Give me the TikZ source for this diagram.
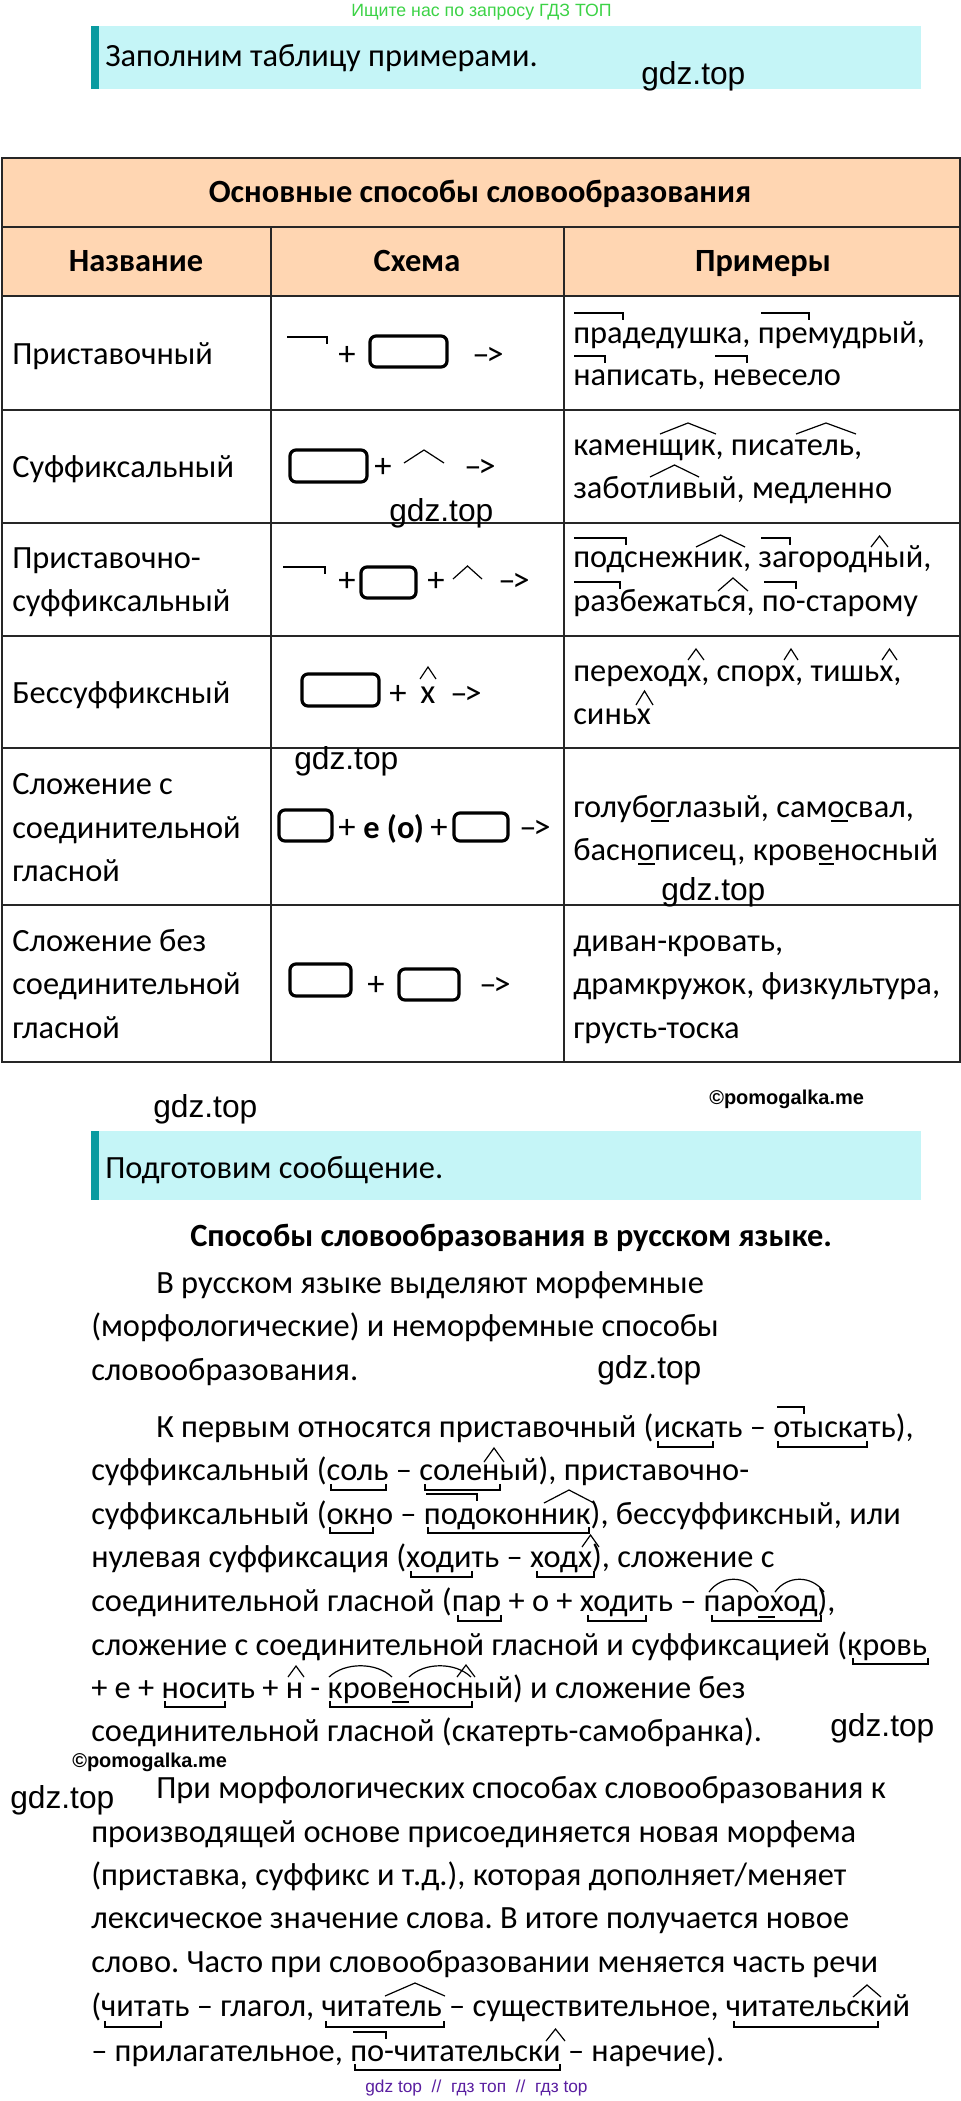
\documentclass[tikz,border=0pt]{standalone}
\usepackage{fontspec}
\setmainfont{Carlito}
\newfontfamily\markfont{Liberation Sans}
\usepackage{tikz}
\frenchspacing
\definecolor{bannerblue}{RGB}{197,245,247}
\definecolor{bannerteal}{RGB}{10,155,160}
\definecolor{headpeach}{RGB}{255,214,178}
\definecolor{adgreen}{RGB}{60,210,70}
\definecolor{adpurple}{RGB}{90,30,160}
\newcommand{\arrowsign}{–\kern-2.5pt>}
\tikzset{
	txt/.style={anchor=base west, inner sep=0pt, font=\fontsize{24.3}{24}\selectfont},
	head/.style={anchor=base, inner sep=0pt, font=\fontsize{24.3}{24}\selectfont\bfseries},
	sign/.style={anchor=center, inner sep=0pt, font=\fontsize{26}{26}\selectfont},
	wmark/.style={anchor=base west, inner sep=0pt, font=\markfont\fontsize{23.8}{24}\selectfont},
	copyr/.style={anchor=base west, inner sep=0pt, font=\markfont\bfseries\fontsize{15}{15}\selectfont},
	gridline/.style={line width=1.5pt, black!85},
	stembox/.style={line width=2.4pt, rounded corners=4.5pt},
	morph/.style={line width=.9pt},
	thickmorph/.style={line width=1.8pt}
}
\newcommand{\prefmark}[3]{\draw[morph] (#1,#3) -- (#2,#3) -- ++(0,7);}
\newcommand{\sufmark}[4]{\draw[morph] (#1,#3) -- ({(#1+#2)/2},#4) -- (#2,#3);}
\newcommand{\rootmark}[3]{\draw[morph] (#1,{#3-6}) -- (#1,#3) -- (#2,#3) -- (#2,{#3-6});}
\newcommand{\archmark}[4]{\draw[morph] (#1,#3) .. controls ({#1+(#2-#1)*.25},{#4-4}) and ({#1+(#2-#1)*.75},{#4-4}) .. (#2,#3);}
\newcommand{\vowelmark}[3]{\draw[thickmorph] (#1,#3) -- (#2,#3);}
\begin{document}
\begin{tikzpicture}[x=.75pt, y=-.75pt]
\useasboundingbox (0,0) rectangle (960,2101);
% banners
\foreach \y/\h in {26/89,1131/1200} {
	\fill[bannerblue] (91,\y) rectangle (921,\h);
	\fill[bannerteal] (91,\y) rectangle (99,\h);
}
\fill[headpeach] (2,158) rectangle (960,296);
% table
\draw[gridline] (2,158) rectangle (960,1062);
\foreach \y in {227.5,296,410,523,636,748,905}
	\draw[gridline] (2,\y) -- (960,\y);
\foreach \x in {270.5,563.8}
	\draw[gridline] (\x,227.5) -- (\x,1062);

\node[wmark, font=\markfont\fontsize{13.3}{14}\selectfont, text=adgreen] (adtop) at (351,17) {Ищите нас по запросу ГДЗ ТОП};
\node[txt] (ban1) at (105,67) {Заполним таблицу примерами.};
\node[head] (title) at (480,203) {Основные способы словообразования};
\node[head] (colname) at (136,272) {Название};
\node[head] (colscheme) at (417,272) {Схема};
\node[head] (colex) at (763,272) {Примеры};

% first column
\node[txt] (n1) at (12,364) {Приставочный};
\node[txt] (n2) at (12,477) {Суффиксальный};
\node[txt] (n3a) at (12,568) {Приставочно-};
\node[txt] (n3b) at (12,611) {суффиксальный};
\node[txt] (n4) at (12,703) {Бессуффиксный};
\node[txt] (n5a) at (12,794) {Сложение с};
\node[txt] (n5b) at (12,838) {соединительной};
\node[txt] (n5c) at (12,881) {гласной};
\node[txt] (n6a) at (12,951) {Сложение без};
\node[txt] (n6b) at (12,994) {соединительной};
\node[txt] (n6c) at (12,1038) {гласной};

% examples
\node[txt] (e1a) at (573,343) {прадедушка, премудрый,};
\node[txt] (e1b) at (573,385) {написать, невесело};
\node[txt] (e2a) at (573,455) {каменщик, писатель,};
\node[txt] (e2b) at (573,498) {заботливый, медленно};
\node[txt] (e3a) at (573,567) {подснежник, загородный,};
\node[txt] (e3b) at (573,611) {разбежаться, по-старому};
\node[txt] (e4a) at (573,681) {переходх, спорх, тишьх,};
\node[txt] (e4b) at (573,724) {синьх};
\node[txt] (e5a) at (573,817) {голубоглазый, самосвал,};
\node[txt] (e5b) at (573,860) {баснописец, кровеносный};
\node[txt] (e6a) at (573,951) {диван-кровать,};
\node[txt] (e6b) at (573,994) {драмкружок, физкультура,};
\node[txt] (e6c) at (573,1038) {грусть-тоска};

\prefmark{574}{623}{313} \prefmark{761}{809}{313}
\prefmark{574}{605}{356} \prefmark{715}{747}{356}
\sufmark{660}{716}{434}{423} \sufmark{796}{856}{434}{423}
\sufmark{650}{699}{477}{465}
\prefmark{574}{626}{538} \sufmark{696}{745}{547}{535}
\prefmark{761}{790}{538} \sufmark{871}{888}{547}{536}
\prefmark{574}{620}{582} \sufmark{718}{748}{591}{578}
\prefmark{764}{796}{582}
\sufmark{688}{704}{660}{649} \sufmark{784}{798}{660}{649}
\sufmark{882}{897}{660}{649} \sufmark{636}{653}{705}{691}
\vowelmark{651}{669}{821} \vowelmark{831}{848}{821}
\vowelmark{638}{655}{864} \vowelmark{819}{834}{864}

% schemes
\prefmark{287}{327}{337}
\node[sign] (s1p) at (347,356) {+};
\draw[stembox] (370,336) rectangle (447,367);
\node[sign] (s1a) at (488,356) {\arrowsign};
\draw[stembox] (290,450) rectangle (367,482);
\node[sign] (s2p) at (383,468) {+};
\sufmark{404}{444}{463}{450}
\node[sign] (s2a) at (480,468) {\arrowsign};
\prefmark{283}{325}{567}
\node[sign] (s3p) at (347,582) {+};
\draw[stembox] (361,567) rectangle (416,598);
\node[sign] (s3q) at (436,582) {+};
\sufmark{453}{482}{579}{566}
\node[sign] (s3a) at (514,582) {\arrowsign};
\draw[stembox] (302,674) rectangle (379,706);
\node[sign] (s4p) at (398,695) {+};
\node[sign] (s4x) at (428,695) {x};
\sufmark{420}{436}{679}{667}
\node[sign] (s4a) at (466,695) {\arrowsign};
\draw[stembox] (279,810) rectangle (332,841);
\node[sign] (s5p) at (347,829) {+};
\node[txt, font=\fontsize{24.3}{24}\selectfont\bfseries] (s5v) at (363,838) {е (о)};
\node[sign] (s5q) at (439,829) {+};
\draw[stembox] (454,813) rectangle (508,841);
\node[sign] (s5a) at (535,829) {\arrowsign};
\draw[stembox] (290,964) rectangle (351,996);
\node[sign] (s6p) at (376,986) {+};
\draw[stembox] (399,969) rectangle (459,1000);
\node[sign] (s6a) at (495,986) {\arrowsign};

% lower part
\node[txt] (ban2) at (105,1178) {Подготовим сообщение.};
\node[txt, font=\fontsize{24.3}{24}\selectfont\bfseries] (msgtitle) at (190,1246) {Способы словообразования в русском языке.};
\node[txt] (a1) at (156,1293) {В русском языке выделяют морфемные};
\node[txt] (a2) at (91,1336) {(морфологические) и неморфемные способы};
\node[txt] (a3) at (91,1380) {словообразования.};
\node[txt] (b1) at (156,1437) {К первым относятся приставочный (искать – отыскать),};
\node[txt] (b2) at (91,1480) {суффиксальный (соль – соленый), приставочно-};
\node[txt] (b3) at (91,1524) {суффиксальный (окно – подоконник), бессуффиксный, или};
\node[txt] (b4) at (91,1567) {нулевая суффиксация (ходить – ходх), сложение с};
\node[txt] (b5) at (91,1611) {соединительной гласной (пар + о + ходить – пароход),};
\node[txt] (b6) at (91,1655) {сложение с соединительной гласной и суффиксацией (кровь};
\node[txt] (b7) at (91,1698) {+ е + носить + н - кровеносный) и сложение без};
\node[txt] (b8) at (91,1741) {соединительной гласной (скатерть-самобранка).};
\node[txt] (c1) at (156,1798) {При морфологических способах словообразования к};
\node[txt] (c2) at (91,1842) {производящей основе присоединяется новая морфема};
\node[txt] (c3) at (91,1885) {(приставка, суффикс и т.д.), которая дополняет/меняет};
\node[txt] (c4) at (91,1928) {лексическое значение слова. В итоге получается новое};
\node[txt] (c5) at (91,1972) {слово. Часто при словообразовании меняется часть речи};
\node[txt] (c6) at (91,2016) {(читать – глагол, читатель – существительное, читательский};
\node[txt] (c7) at (91,2061) {– прилагательное, по-читательски – наречие).};

\rootmark{658}{713}{1447} \rootmark{778}{867}{1447} \prefmark{777}{804}{1407}
\rootmark{331}{386}{1490} \rootmark{425}{500}{1490} \sufmark{484}{504}{1462}{1448}
\rootmark{330}{373}{1533} \rootmark{428}{589}{1533} \prefmark{426}{477}{1494}
\sufmark{544}{594}{1503}{1490}
\rootmark{411}{472}{1577} \rootmark{537}{594}{1577} \sufmark{582}{599}{1547}{1535}
\rootmark{458}{501}{1621} \rootmark{588}{646}{1621} \rootmark{712}{821}{1621}
\archmark{709}{758}{1592}{1579} \archmark{775}{824}{1592}{1579}
\vowelmark{758}{775}{1617}
\rootmark{853}{928}{1664}
\rootmark{165}{225}{1707} \sufmark{288}{304}{1677}{1666} \rootmark{330}{472}{1707}
\archmark{329}{392}{1677}{1666} \archmark{409}{471}{1677}{1666}
\sufmark{457}{475}{1677}{1665} \vowelmark{392}{409}{1702}
\rootmark{105}{161}{2027} \rootmark{326}{444}{2027} \sufmark{385}{445}{1996}{1983}
\rootmark{734}{878}{2027} \sufmark{853}{881}{1997}{1985}
\rootmark{355}{560}{2070} \prefmark{353}{386}{2032} \sufmark{546}{565}{2041}{2029}

% watermarks
\node[wmark] (w1) at (641,85) {gdz.top};
\node[wmark] (w2) at (389,521) {gdz.top};
\node[wmark] (w3) at (294,769) {gdz.top};
\node[wmark] (w4) at (661,900) {gdz.top};
\node[wmark] (w5) at (153,1117) {gdz.top};
\node[wmark] (w6) at (597,1378) {gdz.top};
\node[wmark] (w7) at (830,1736) {gdz.top};
\node[wmark] (w8) at (10,1808) {gdz.top};
\node[copyr] (cp1) at (709,1104) {©pomogalka.me};
\node[copyr] (cp2) at (72,1767) {©pomogalka.me};
\node[wmark, font=\markfont\fontsize{13}{14}\selectfont, text=adpurple] (adbot) at (365,2092) {gdz top\ \ //\ \ гдз топ\ \ //\ \ гдз top};
\end{tikzpicture}
\end{document}
